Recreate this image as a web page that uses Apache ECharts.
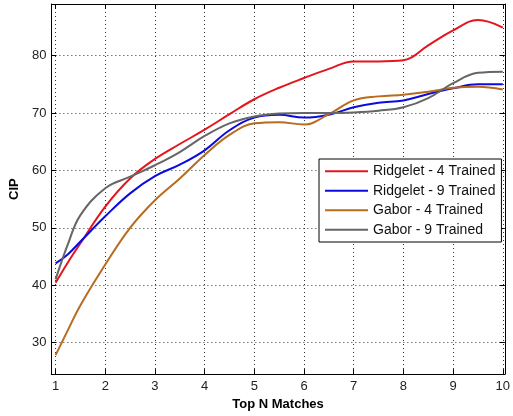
<!DOCTYPE html>
<html><head><meta charset="utf-8">
<script src="https://cdn.jsdelivr.net/npm/echarts@6/dist/echarts.min.js"></script>
<style>html,body{margin:0;padding:0;background:#fff}#c{width:513px;height:416px}</style>
</head><body><div id="c"></div>
<script>
const xValues = [1, 1.25, 1.5, 2, 2.5, 3, 3.5, 4, 4.5, 5, 5.5, 6, 6.5, 7, 7.5, 8, 8.5, 9, 9.5, 10];
const ridgelet4 = [40.4, 44, 47.3, 53.7, 58.6, 62, 64.6, 67.1, 69.8, 72.4, 74.4, 76.1, 77.7, 79, 79, 79.2, 81.8, 84.4, 86.2, 84.9];
const ridgelet9 = [43.8, 45.4, 47.6, 52, 56, 59, 61, 63.5, 67, 69.2, 69.7, 69.2, 69.7, 71, 71.8, 72.2, 73.3, 74.3, 75, 75];
const gabor4 = [27.8, 32.2, 36.5, 43.6, 50, 54.8, 58.6, 62.7, 66.2, 68.2, 68.4, 68, 69.8, 72.2, 72.9, 73.2, 73.7, 74.4, 74.6, 74.1];
const gabor9 = [41, 47.2, 52.2, 56.9, 58.9, 60.9, 63.2, 66, 68.2, 69.4, 69.9, 70, 70, 70.1, 70.4, 71, 72.6, 75.2, 77, 77.2];
const seriesNames = ['Ridgelet - 4 Trained', 'Ridgelet - 9 Trained', 'Gabor - 4 Trained', 'Gabor - 9 Trained'];
const seriesColors = ['#e3161e', '#0b0be0', '#b86b1e', '#666666'];
const xTicks = [1, 2, 3, 4, 5, 6, 7, 8, 9, 10];
const yTicks = [30, 40, 50, 60, 70, 80];

const FONT = 'Liberation Sans, Arial, sans-serif';
const allSeries = [ridgelet4, ridgelet9, gabor4, gabor9];
const chart = echarts.init(document.getElementById('c'));

const xBase = {
  type: 'value', min: 0.915, max: 10.04,
  axisLine: { show: true, onZero: false, lineStyle: { color: '#000', width: 1 } },
  axisTick: { show: true, inside: true, length: 5, customValues: xTicks, lineStyle: { color: '#000' } },
};
const yBase = {
  type: 'value', min: 24.5, max: 89,
  axisLine: { show: true, onZero: false, lineStyle: { color: '#000', width: 1 } },
  axisTick: { show: true, inside: true, length: 5, customValues: yTicks, lineStyle: { color: '#000' } },
};

chart.setOption({
  animation: false,
  backgroundColor: '#fff',
  grid: { left: 49, top: 4, right: 1, bottom: 40, containLabel: false },
  xAxis: [
    Object.assign({}, xBase, {
      position: 'bottom',
      axisLabel: { customValues: xTicks, margin: 6, fontSize: 13, color: '#222', fontFamily: FONT },
      splitLine: { show: true, lineStyle: { type: [1, 3], color: '#333', width: 1 } },
      name: 'Top N Matches', nameLocation: 'middle', nameGap: 21,
      nameTextStyle: { fontWeight: 'bold', fontSize: 13, color: '#000', fontFamily: FONT }
    }),
    Object.assign({}, xBase, { position: 'top', axisLabel: { show: false }, splitLine: { show: false } })
  ],
  yAxis: [
    Object.assign({}, yBase, {
      position: 'left',
      axisLabel: { customValues: yTicks, margin: 5, fontSize: 13, color: '#222', fontFamily: FONT },
      splitLine: { show: true, lineStyle: { type: [1, 3], color: '#333', width: 1 } },
      name: 'CIP', nameLocation: 'middle', nameGap: 27, nameRotate: 90,
      nameTextStyle: { fontWeight: 'bold', fontSize: 13, color: '#000', fontFamily: FONT }
    }),
    Object.assign({}, yBase, { position: 'right', axisLabel: { show: false }, splitLine: { show: false } })
  ],
  legend: {
    orient: 'vertical', left: 319, top: 159,
    padding: [5, 6, 5, 6], itemWidth: 43, itemHeight: 2, itemGap: 5,
    icon: 'rect',
    backgroundColor: '#fff', borderColor: '#000', borderWidth: 1, borderRadius: 0,
    textStyle: { fontSize: 14, lineHeight: 14.5, color: '#111', fontFamily: FONT },
    data: seriesNames
  },
  series: allSeries.map((arr, i) => ({
    name: seriesNames[i], type: 'line', smooth: 0.4, symbol: 'none',
    xAxisIndex: 0, yAxisIndex: 0,
    color: seriesColors[i],
    lineStyle: { width: 2, color: seriesColors[i] },
    data: xValues.map((x, j) => [x, arr[j]])
  }))
});
</script></body></html>
